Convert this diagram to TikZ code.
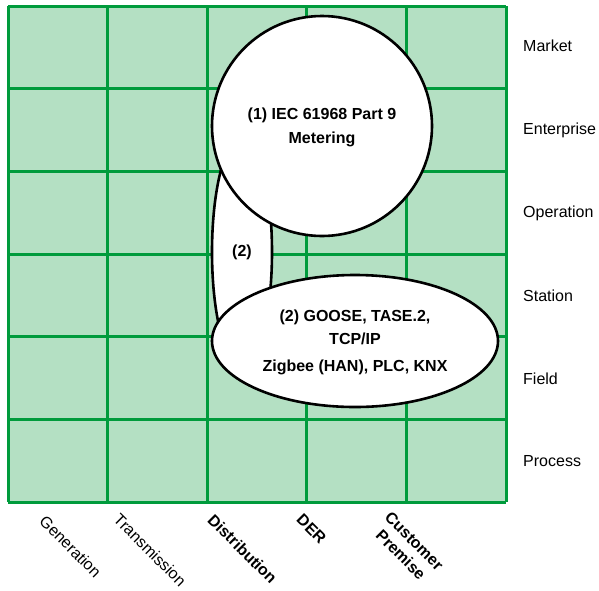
\documentclass[tikz,border=0pt]{standalone}
\usepackage{fontspec}
\setmainfont{Liberation Sans}
\begin{document}
\begin{tikzpicture}[x=1pt,y=-1pt,
  gridline/.style={draw=gridgreen,line width=3pt},
  blob/.style={draw=black,line width=2.6pt,fill=white},
  rowlabel/.style={anchor=west,inner sep=0pt,font=\fontsize{16}{19}\selectfont},
  collabel/.style={rotate=-45,inner sep=0pt,font=\fontsize{16}{19}\selectfont,align=center},
  boldtext/.style={inner sep=0pt,font=\fontsize{16}{19}\selectfont\bfseries}]
\definecolor{gridgreen}{RGB}{0,155,60}
\definecolor{cellgreen}{RGB}{180,224,195}
\useasboundingbox (0,0) rectangle (599,590);
% grid
\fill[cellgreen] (8,6) rectangle (506,502);
\foreach \x in {8,107.6,207.2,306.8,406.4,506}
  \draw[gridline] (\x,6) -- (\x,502);
\foreach \y in {6,88.67,171.33,254,336.67,419.33,502}
  \draw[gridline] (8,\y) -- (506,\y);
% shapes
\draw[blob] (242,252) ellipse [x radius=30, y radius=115];
\draw[blob] (322,126) circle [radius=110];
\draw[blob] (355,341) ellipse [x radius=143, y radius=66];
% texts
\node[boldtext] (mid) at (242,252) {(2)};
\node[boldtext] (c1) at (322,115) {(1) IEC 61968 Part 9};
\node[boldtext] (c2) at (322,139) {Metering};
\node[boldtext] (e1) at (355,317) {(2) GOOSE, TASE.2,};
\node[boldtext] (e2) at (355,339) {TCP/IP};
\node[boldtext] (e3) at (355,367) {Zigbee (HAN), PLC, KNX};
% row labels
\node[rowlabel] (r1) at (523,46) {Market};
\node[rowlabel] (r2) at (523,130) {Enterprise};
\node[rowlabel] (r3) at (523,213) {Operation};
\node[rowlabel] (r4) at (523,296) {Station};
\node[rowlabel] (r5) at (523,379) {Field};
\node[rowlabel] (r6) at (523,461) {Process};
% column labels
\node[collabel] (k1) at (70.5,546.5) {Generation};
\node[collabel] (k2) at (150,550) {Transmission};
\node[collabel,font=\fontsize{16}{19}\selectfont\bfseries] (k3) at (242.5,549) {Distribution};
\node[collabel,font=\fontsize{16}{19}\selectfont\bfseries] (k4) at (311.5,529) {DER};
\node[collabel,font=\fontsize{16}{19}\selectfont\bfseries] (k5) at (407.5,548) {Customer\\Premise};
\end{tikzpicture}
\end{document}
